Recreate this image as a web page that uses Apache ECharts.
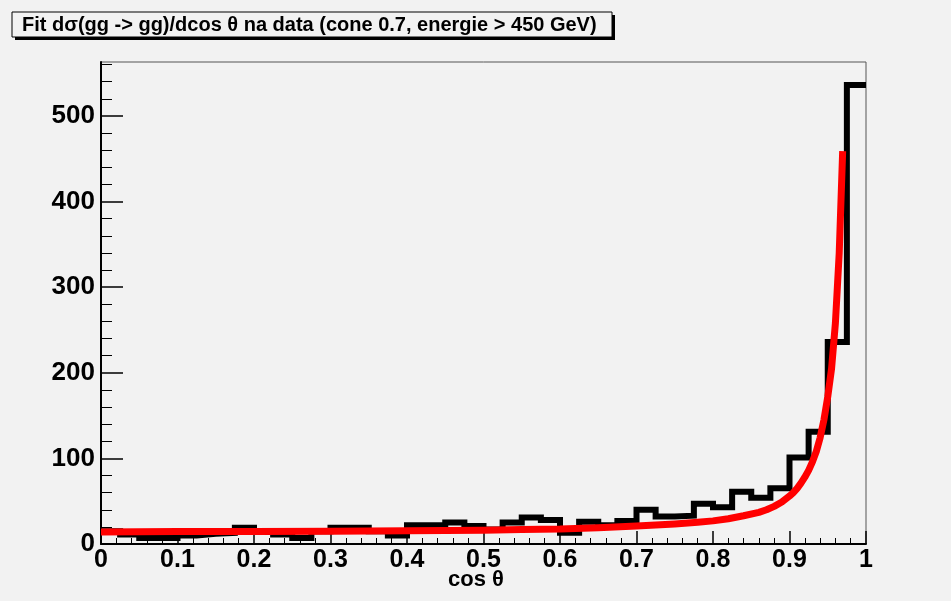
<!DOCTYPE html>
<html>
<head>
<meta charset="utf-8">
<script src="https://cdn.jsdelivr.net/npm/echarts@6/dist/echarts.min.js"></script>
<style>
  html, body { margin: 0; padding: 0; background: #f2f2f2; }
  #chart { width: 951px; height: 601px; }
</style>
</head>
<body>
<div id="chart"></div>
<script>
// Histogram of cos(theta): 40 bins of width 0.025 between 0 and 1
const binStart = 0;
const binWidth = 0.025;
const counts = [
  15, 11, 7, 7, 10, 12, 13, 19, 14, 11,
  7, 15, 19, 19, 15, 10, 22, 22, 25, 21,
  17, 25, 31, 28, 13, 26, 22, 27, 40, 32,
  33, 47, 43, 61, 54, 65, 101, 131, 236, 536
];

// Fitted curve, sampled along cos(theta)
const fitX = [0, 0.1, 0.2, 0.3, 0.4, 0.5, 0.55, 0.6, 0.65, 0.7, 0.75, 0.78, 0.8, 0.82,
              0.84, 0.86, 0.87, 0.88, 0.89, 0.9, 0.905, 0.91, 0.915, 0.92, 0.925, 0.93,
              0.935, 0.94, 0.945, 0.95, 0.955, 0.96, 0.965, 0.9695];
const fitY = [14, 14.5, 14.5, 15, 15.5, 16, 17, 17.5, 19, 21, 23.5, 25.5, 27, 29.5,
              33, 37, 40, 44, 49, 56, 60, 65, 71, 78, 86, 96,
              108, 124, 145, 172, 205, 258, 340, 459];

// Axis ticks and labels
const xTickLabels = ['0', '0.1', '0.2', '0.3', '0.4', '0.5', '0.6', '0.7', '0.8', '0.9', '1'];
const yMajorTicks = [0, 100, 200, 300, 400, 500];
const yMinorTicks = [20, 40, 60, 80, 120, 140, 160, 180, 220, 240, 260, 280,
                     320, 340, 360, 380, 420, 440, 460, 480, 520, 540, 560];

const titleText = 'Fit d\u03c3(gg -> gg)/dcos \u03b8 na data (cone 0.7, energie > 450 GeV)';
const xTitle = 'cos \u03b8';

// Step outline: one point per bin's left edge, closed at the last bin's right edge
const histPoints = counts.map((c, i) => [binStart + i * binWidth, c]);
histPoints.push([binStart + counts.length * binWidth, counts[counts.length - 1]]);

const fitPoints = fitX.map((x, i) => [x, fitY[i]]);

const FONT = 'Liberation Sans, Arial, Helvetica, sans-serif';

const chart = echarts.init(document.getElementById('chart'), null, { renderer: 'canvas' });

chart.setOption({
  backgroundColor: '#f2f2f2',
  animation: false,
  grid: {
    left: 101, right: 85, top: 62, bottom: 57,
    show: true, borderColor: '#555', borderWidth: 1, backgroundColor: 'transparent'
  },
  xAxis: {
    type: 'value', min: 0, max: 1, interval: 0.1,
    axisLine: { show: true, onZero: false, lineStyle: { color: '#000', width: 2 } },
    axisTick: { show: true, inside: true, length: 13, lineStyle: { color: '#000', width: 1.5 } },
    minorTick: { show: true, splitNumber: 5, length: 6, lineStyle: { color: '#000', width: 1 } },
    splitLine: { show: false },
    axisLabel: {
      margin: 4, color: '#000', fontFamily: FONT, fontWeight: 'bold', fontSize: 25,
      formatter: (v) => xTickLabels[Math.round(v * 10)]
    }
  },
  yAxis: [
    {
      type: 'value', min: 0, max: 563,
      axisLine: { show: true, onZero: false, lineStyle: { color: '#000', width: 2 } },
      axisTick: { show: true, inside: true, length: 22, customValues: yMajorTicks,
                  lineStyle: { color: '#000', width: 1.5 } },
      splitLine: { show: false },
      axisLabel: {
        margin: 6, color: '#000', fontFamily: FONT, fontWeight: 'bold', fontSize: 26,
        customValues: yMajorTicks
      }
    },
    {
      type: 'value', min: 0, max: 563, position: 'left',
      axisLine: { show: false },
      axisTick: { show: true, inside: true, length: 11, customValues: yMinorTicks,
                  lineStyle: { color: '#000', width: 1 } },
      axisLabel: { show: false },
      splitLine: { show: false }
    }
  ],
  series: [
    {
      type: 'line', step: 'end', data: histPoints, symbol: 'none',
      lineStyle: { color: '#000', width: 6, join: 'miter', cap: 'butt' }, z: 2
    },
    {
      type: 'line', smooth: false, data: fitPoints, symbol: 'none',
      lineStyle: { color: '#ff0000', width: 7, join: 'round', cap: 'butt' }, z: 3
    }
  ],
  graphic: [
    { type: 'rect', shape: { x: 15, y: 15, width: 600, height: 25 }, style: { fill: '#000' }, z: 10 },
    { type: 'rect', shape: { x: 12, y: 12, width: 600, height: 25 },
      style: { fill: '#f2f2f2', stroke: '#000', lineWidth: 1 }, z: 11 },
    { type: 'text', x: 22, y: 25, z: 12,
      style: { text: titleText, fill: '#000', font: 'bold 20px ' + FONT,
               verticalAlign: 'middle' } },
    { type: 'text', x: 476, y: 580, z: 12,
      style: { text: xTitle, fill: '#000', font: 'bold 22px ' + FONT,
               align: 'center', verticalAlign: 'middle' } }
  ]
});
</script>
</body>
</html>
